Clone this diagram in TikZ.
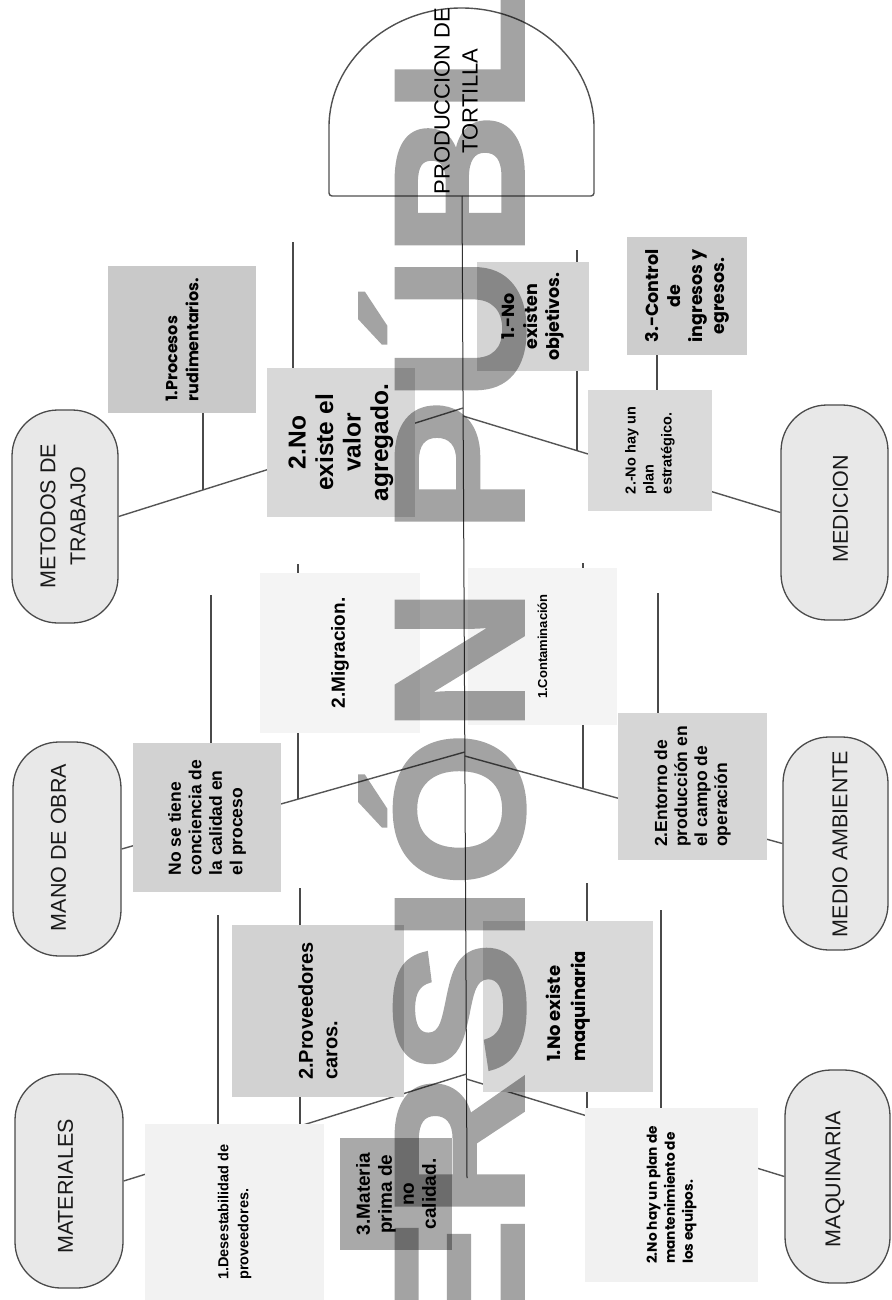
\documentclass[tikz,border=0pt]{standalone}
\usepackage{fontspec}
\setmainfont{Liberation Sans}
\newfontfamily\popfont{Poppins}
\newfontfamily\wmfont{Liberation Sans}[FakeStretch=1.081,BoldFeatures={FakeBold=2}]
\definecolor{catfill}{HTML}{E8E8E8}
\definecolor{catline}{HTML}{4A4A4A}
\definecolor{bonec}{HTML}{555555}
\definecolor{twigc}{HTML}{4A4A4A}
\definecolor{spinec}{HTML}{333333}
\definecolor{headc}{HTML}{505050}
\definecolor{fproc}{HTML}{C9C9C9}
\definecolor{fvalor}{HTML}{D8D8D8}
\definecolor{fobj}{HTML}{D4D4D4}
\definecolor{fctrl}{HTML}{CDCDCD}
\definecolor{fplan}{HTML}{DADADA}
\definecolor{fconc}{HTML}{D2D2D2}
\definecolor{fmig}{HTML}{F4F4F4}
\definecolor{fcont}{HTML}{F4F4F4}
\definecolor{fent}{HTML}{D6D6D6}
\definecolor{fprov}{HTML}{D2D2D2}
\definecolor{fdes}{HTML}{F2F2F2}
\definecolor{fmat}{HTML}{A9A9A9}
\definecolor{fmaq}{HTML}{D9D9D9}
\definecolor{fmant}{HTML}{F1F1F1}
\begin{document}
\begin{tikzpicture}[x=1pt,y=-1pt,
  cat/.style={draw=catline, fill=catfill, line width=1.3pt, rounded corners=46pt, rotate=90,
    inner sep=0pt},
  cattext/.style={rotate=90, align=center, inner sep=0pt,
    font=\fontsize{21.5}{30}\selectfont, text=black!90},
  sb/.style={rotate=90, inner sep=0pt, text=black},
  bone/.style={draw=bonec, line width=1.4pt},
  twig/.style={draw=twigc, line width=1.3pt},
  spineline/.style={draw=spinec, line width=1pt},
  headline/.style={draw=headc, line width=1.4pt, fill=white, rounded corners=3pt},
  headtext/.style={rotate=90, align=center, inner sep=0pt, font=\fontsize{22}{28}\selectfont},
  wm/.style={rotate=90, anchor=base west, inner sep=0pt, text=black,
    font=\wmfont\bfseries\fontsize{184}{184}\selectfont}]
\useasboundingbox (0,0) rectangle (891,1300);
\begin{scope}
\clip (0,0) rectangle (891,1300);
\fill[white] (0,0) rectangle (891,1300);

% head
\draw[headline] (329,196) -- (329,130) arc[start angle=180, end angle=0, x radius=132.5pt, y radius=122pt] -- (594,196) -- cycle;
\node[headtext] (head) at (456,101) {PRODUCCION DE\\TORTILLA};

% spine
\coordinate (sp0) at (462,196);
\coordinate (sp1) at (467,1178);
\coordinate (j1l) at (463.1,408);
\coordinate (j1r) at (463.1,416);
\coordinate (j2l) at (464.8,752);
\coordinate (j2r) at (464.8,756);
\coordinate (j3l) at (466.5,1074);
\coordinate (j3r) at (466.5,1079);
\draw[spineline] (sp0) -- (sp1);

% categories
\node[cat, minimum width=213pt, minimum height=106pt] (metodos) at (65,516.5) {};
\node[cat, minimum width=214pt, minimum height=108pt] (mano) at (67,849) {};
\node[cat, minimum width=214pt, minimum height=108pt] (materiales) at (69,1181) {};
\node[cat, minimum width=215pt, minimum height=107pt] (medicion) at (834.5,512.5) {};
\node[cat, minimum width=213pt, minimum height=105pt] (medio) at (835.5,843.5) {};
\node[cat, minimum width=213pt, minimum height=105pt] (maquinaria) at (837.5,1176.5) {};
\node[cattext] (metodost) at (63,516) {METODOS DE\\TRABAJO};
\node[cattext] (manot) at (58.5,847.5) {MANO DE OBRA};
\node[cattext] (materialest) at (65.5,1186.5) {MATERIALES};
\node[cattext] (mediciont) at (840.5,508.5) {MEDICION};
\node[cattext] (mediot) at (840,844) {MEDIO AMBIENTE};
\node[cattext] (maquinariat) at (835,1179) {MAQUINARIA};

% main bones
\draw[bone] (metodos.south) -- (j1l);
\draw[bone] (j1r) -- (medicion.north);
\draw[bone] (mano.south) -- (j2l);
\draw[bone] (j2r) -- (medio.north);
\draw[bone] (materiales.south) -- (j3l);
\draw[bone] (j3r) -- (maquinaria.north);

% sub bones
\coordinate (a1) at (203,340);   \coordinate (b1) at (203,489.7);
\coordinate (a2) at (293,242);   \coordinate (b2) at (293,461.3);
\coordinate (a3) at (577,250);   \coordinate (b3) at (577,450.8);
\coordinate (a4) at (657,300);   \coordinate (b4) at (657,475);
\coordinate (a5) at (298,564);   \coordinate (b5) at (298,799);
\coordinate (a6) at (211,595);   \coordinate (b6) at (211,823.5);
\coordinate (a7) at (583,563);   \coordinate (b7) at (583,788.6);
\coordinate (a8) at (658,593);   \coordinate (b8) at (658,809.2);
\coordinate (a9) at (300,888);   \coordinate (b9) at (300,1126);
\coordinate (a10) at (218,915);  \coordinate (b10) at (218,1151.5);
\coordinate (a11) at (587,883);  \coordinate (b11) at (587,1115.8);
\coordinate (a12) at (661,910);  \coordinate (b12) at (661,1138.5);
\foreach \i in {1,...,12} { \draw[twig] (a\i) -- (b\i); }

% cause boxes
\node[sb, fill=fproc, minimum width=147pt, minimum height=148pt, align=left,
  font=\popfont\bfseries\fontsize{16}{21}\selectfont] (procesos) at (182,339.5) {1.Procesos\\rudimentarios.};
\node[sb, fill=fvalor, minimum width=149pt, minimum height=148pt, align=center,
  font=\bfseries\fontsize{24.5}{27.5}\selectfont] (valor) at (341,442.5) {2.No\\existe el\\valor\\agregado.};
\node[sb, fill=fobj, minimum width=109pt, minimum height=112pt, align=center,
  font=\popfont\bfseries\fontsize{17.5}{22.5}\selectfont] (objetivos) at (533,316.5) {1.-No\\existen\\objetivos.};
\node[sb, fill=fctrl, minimum width=118pt, minimum height=120pt, align=center,
  font=\popfont\bfseries\fontsize{17.5}{22}\selectfont] (control) at (687,296) {3.-Control\\de\\ingresos y\\egresos.};
\node[sb, fill=fplan, minimum width=121pt, minimum height=124pt, align=left,
  font=\bfseries\fontsize{14.5}{18}\selectfont] (plan) at (650,450.5) {2.-No hay un\\plan\\estratégico.};
\node[sb, fill=fconc, minimum width=149pt, minimum height=148pt, align=left,
  font=\bfseries\fontsize{17.5}{20.5}\selectfont] (conciencia) at (207,817.5) {No se tiene\\conciencia de\\la calidad en\\el proceso};
\node[sb, fill=fmig, minimum width=160pt, minimum height=160pt,
  font=\bfseries\fontsize{19}{22}\selectfont] (migracion) at (340,653) {2.Migracion.};
\node[sb, fill=fcont, minimum width=157pt, minimum height=149pt,
  font=\bfseries\fontsize{13}{16}\selectfont] (contaminacion) at (542.5,646.5) {1.Contaminación};
\node[sb, fill=fent, minimum width=147pt, minimum height=149pt, align=left,
  font=\bfseries\fontsize{17.5}{20}\selectfont] (entorno) at (692.5,786.5) {2.Entorno de\\producción en\\el campo de\\operación};
\node[sb, fill=fprov, minimum width=172pt, minimum height=172pt, align=left,
  font=\bfseries\fontsize{20}{24.5}\selectfont] (proveedores) at (318,1011) {2.Proveedores\\caros.};
\node[sb, fill=fdes, minimum width=176pt, minimum height=179pt, align=left,
  font=\bfseries\fontsize{14.5}{20}\selectfont] (desestabilidad) at (234.5,1212) {1.Desestabilidad de\\proveedores.};
\node[sb, fill=fmat, minimum width=112pt, minimum height=112pt, align=center,
  font=\bfseries\fontsize{19}{22}\selectfont] (materia) at (396,1194) {3.Materia\\prima de\\no\\calidad.};
\node[sb, fill=fmaq, minimum width=171pt, minimum height=170pt, align=left,
  font=\popfont\bfseries\fontsize{18}{25}\selectfont] (noexiste) at (568,1006.5) {1.No existe\\maquinaria};
\node[sb, fill=fmant, minimum width=174pt, minimum height=173pt, align=left,
  font=\popfont\bfseries\fontsize{13.7}{18}\selectfont] (mantenimiento) at (671.5,1195) {2.No hay un plan de\\mantenimiento de\\los equipos.};

% watermark
\begin{scope}[transparency group, opacity=0.36]
\node[wm] (wmark) at (523,1483.6) {VERSIÓN PÚBLICA};
\end{scope}
\end{scope}
\end{tikzpicture}
\end{document}
